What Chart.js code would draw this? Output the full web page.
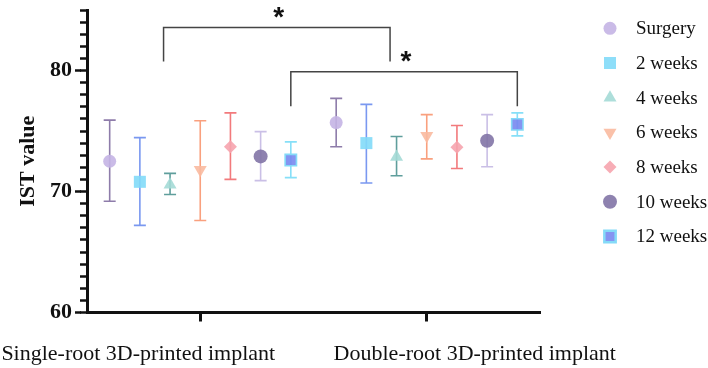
<!DOCTYPE html>
<html lang="en">
<head>
<meta charset="UTF-8">
<title>IST value</title>
<script src="https://cdn.jsdelivr.net/npm/chart.js"></script>
<style>
    body { margin: 0; background: #fff; }
    #chart { display: block; }
</style>
</head>
<body>
<canvas id="chart" width="708" height="368"></canvas>
<script>
var groups = ['Single-root 3D-printed implant', 'Double-root 3D-printed implant'];
var series = ['Surgery', '2 weeks', '4 weeks', '6 weeks', '8 weeks', '10 weeks', '12 weeks'];
// one pair per series: [single-root, double-root]
var means = [[72.5, 75.7], [70.8, 74.0], [70.55, 72.85], [71.8, 74.6], [73.7, 73.65], [72.9, 74.2], [72.6, 75.55]];
var lows = [[69.2, 73.7], [67.2, 70.7], [69.75, 71.3], [67.6, 72.7], [71.0, 71.9], [70.9, 72.05], [71.15, 74.6]];
var highs = [[75.9, 77.7], [74.45, 77.2], [71.5, 74.55], [75.85, 76.35], [76.5, 75.45], [74.95, 76.35], [74.1, 76.5]];
var yTicks = [60, 70, 80];
// significance brackets: which series they join, top and foot value
var bracketSeries = [2, 6];
var bracketTop = [83.55, 79.9];
var bracketFoot = [80.75, 77.05];
var bracketLabel = ['*', '*'];

var markerColors = ['rgba(196,180,228,0.9)', 'rgba(130,218,248,0.9)', 'rgba(164,218,214,0.9)', 'rgba(250,186,160,0.9)',
    'rgba(246,164,174,0.9)', 'rgba(130,116,166,0.9)', 'rgba(120,136,240,0.9)'];
var markerBorders = ['rgba(0,0,0,0)', 'rgba(0,0,0,0)', 'rgba(0,0,0,0)', 'rgba(0,0,0,0)', 'rgba(0,0,0,0)', 'rgba(0,0,0,0)', '#84daf8'];
var barColors = ['#8e7caa', '#7a98f0', '#5f9e9c', '#f9a07e', '#f27a7c', '#cabfe6', '#86dff8'];
var pointStyles = ['circle', 'rect', 'triangle', 'triangle', 'rectRot', 'circle', 'rect'];
var rotations = [0, 0, 0, 180, 0, 0, 0];
var radii = [6.5, 8.5, 7.5, 7.5, 6.5, 7, 8];

var serif = '"Liberation Serif", "Times New Roman", serif';

function drawMarker(ctx, i, x, y) {
    ctx.fillStyle = markerColors[i];
    ctx.strokeStyle = markerBorders[i];
    Chart.helpers.drawPoint(ctx, {
        pointStyle: pointStyles[i],
        rotation: rotations[i],
        radius: radii[i],
        borderWidth: i === 6 ? 2 : 0
    }, x, y);
}

var extras = {
    id: 'extras',
    afterDatasetsDraw: function (chart) {
        var ctx = chart.ctx;
        var ys = chart.scales.y;
        var xs = chart.scales.x;
        ctx.save();

        // error bars + markers
        series.forEach(function (name, i) {
            chart.getDatasetMeta(i).data.forEach(function (bar, j) {
                var top = ys.getPixelForValue(highs[i][j]);
                var bot = ys.getPixelForValue(lows[i][j]);
                ctx.strokeStyle = barColors[i];
                ctx.lineWidth = 1.6;
                ctx.beginPath();
                ctx.moveTo(bar.x, top); ctx.lineTo(bar.x, bot);
                ctx.moveTo(bar.x - 6, top); ctx.lineTo(bar.x + 6, top);
                ctx.moveTo(bar.x - 6, bot); ctx.lineTo(bar.x + 6, bot);
                ctx.stroke();
                drawMarker(ctx, i, bar.x, bar.y);
            });
        });

        // brackets
        var shift = [-6.5, 0];
        bracketSeries.forEach(function (s, k) {
            var pts = chart.getDatasetMeta(s).data;
            var x0 = pts[0].x + shift[k], x1 = pts[1].x + shift[k];
            var t = ys.getPixelForValue(bracketTop[k]);
            var f = ys.getPixelForValue(bracketFoot[k]);
            ctx.strokeStyle = '#444';
            ctx.lineWidth = 1.5;
            ctx.beginPath();
            ctx.moveTo(x0, f); ctx.lineTo(x0, t); ctx.lineTo(x1, t); ctx.lineTo(x1, f);
            ctx.stroke();
            ctx.fillStyle = '#111';
            ctx.font = 'bold 28px "Liberation Sans", Arial, sans-serif';
            ctx.textAlign = 'center';
            ctx.textBaseline = 'alphabetic';
            ctx.fillText(bracketLabel[k], (x0 + x1) / 2 + 2, t - 1.5);
        });

        // longer major ticks on the y axis
        ctx.strokeStyle = '#111';
        ctx.lineWidth = 2.5;
        yTicks.forEach(function (v) {
            var py = ys.getPixelForValue(v);
            ctx.beginPath();
            ctx.moveTo(ys.right - 12, py); ctx.lineTo(ys.right - 6, py);
            ctx.stroke();
        });

        // category labels (wider than their band, so shifted apart)
        var labelShift = [-62, 48];
        ctx.fillStyle = '#111';
        ctx.font = '22px ' + serif;
        ctx.textAlign = 'center';
        ctx.textBaseline = 'alphabetic';
        groups.forEach(function (g, j) {
            ctx.fillText(g, xs.getPixelForValue(j) + labelShift[j], 360);
        });

        // legend
        ctx.font = '19px ' + serif;
        ctx.textAlign = 'left';
        ctx.textBaseline = 'middle';
        series.forEach(function (name, i) {
            var ly = 28.3 + i * 34.7;
            drawMarker(ctx, i, 610, ly);
            ctx.fillStyle = '#111';
            ctx.fillText(name, 636, ly + 1);
        });
        ctx.restore();
    }
};

new Chart(document.getElementById('chart'), {
    type: 'bar',
    data: {
        labels: groups,
        datasets: series.map(function (name, i) {
            return {
                label: name,
                data: means[i],
                backgroundColor: 'rgba(0,0,0,0)',
                borderWidth: 0,
                categoryPercentage: 0.933,
                barPercentage: 1
            };
        })
    },
    options: {
        responsive: false,
        animation: false,
        events: [],
        layout: { padding: { top: 10, right: 168, left: 0, bottom: 0 } },
        plugins: {
            legend: { display: false },
            tooltip: { enabled: false }
        },
        scales: {
            x: {
                offset: true,
                grid: { offset: false, drawOnChartArea: false, tickLength: 9, tickWidth: 3, tickColor: '#111' },
                border: { color: '#111', width: 3 },
                ticks: { display: false },
                afterFit: function (s) { s.height = 55.5; }
            },
            y: {
                min: 60,
                max: 85,
                ticks: {
                    stepSize: 1,
                    autoSkip: false,
                    padding: 8,
                    color: '#111',
                    font: { family: serif, size: 22, weight: 'bold' },
                    callback: function (v) { return yTicks.indexOf(v) >= 0 ? v : ''; }
                },
                grid: { drawOnChartArea: false, tickLength: 7, tickWidth: 2.5, tickColor: '#111' },
                border: { color: '#111', width: 3 },
                title: {
                    display: true,
                    text: 'IST value',
                    color: '#111',
                    font: { family: serif, size: 22, weight: 'bold' },
                    padding: { top: 15, bottom: 0 }
                },
                afterFit: function (s) {
                    s.width = 87;
                    s.paddingTop = 0;
                    s.paddingBottom = 0;
                }
            }
        }
    },
    plugins: [extras]
});
</script>
</body>
</html>
